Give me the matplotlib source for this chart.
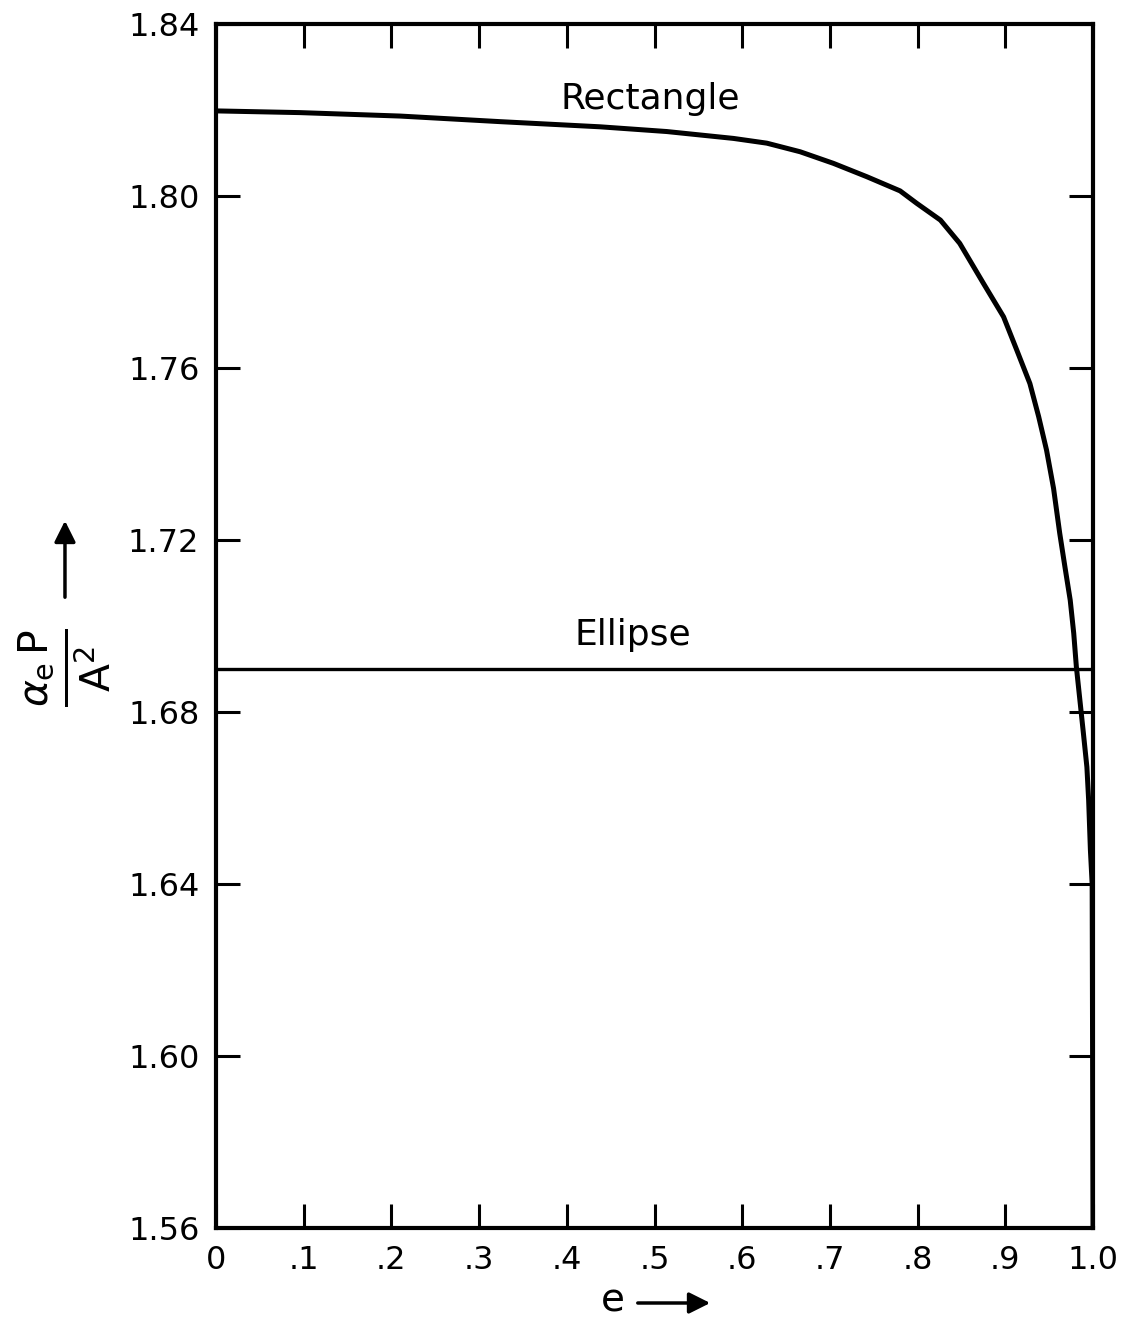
import matplotlib
matplotlib.use("Agg")
import matplotlib.pyplot as plt

plt.rcParams['font.family'] = ['DejaVu Sans']
plt.rcParams['mathtext.fontset'] = 'dejavusans'

# Courbes
e_rect = [0.0, 0.096, 0.21, 0.324, 0.438, 0.514, 0.59, 0.628, 0.666, 0.704,
          0.742, 0.78, 0.799, 0.826, 0.848, 0.875, 0.898, 0.913, 0.928,
          0.938, 0.947, 0.955, 0.962, 0.968, 0.974, 0.978, 0.981, 0.985,
          0.989, 0.993, 0.995, 0.997, 0.999, 1.0]
v_rect = [1.8198, 1.8194, 1.8186, 1.8173, 1.8161, 1.8150, 1.8134, 1.8123,
          1.8103, 1.8076, 1.8045, 1.8012, 1.7983, 1.7944, 1.7890, 1.7797,
          1.7719, 1.7642, 1.7564, 1.7487, 1.7409, 1.7320, 1.7216, 1.7137,
          1.7060, 1.6983, 1.6905, 1.6828, 1.6751, 1.6672, 1.6595, 1.6479,
          1.6400, 1.5600]
e_ell = [0.0, 1.0]
v_ell = [1.69, 1.69]

xticks = [0, 0.1, 0.2, 0.3, 0.4, 0.5, 0.6, 0.7, 0.8, 0.9, 1.0]
xlabels = ['0', '.1', '.2', '.3', '.4', '.5', '.6', '.7', '.8', '.9', '1.0']
yticks = [1.56, 1.60, 1.64, 1.68, 1.72, 1.76, 1.80, 1.84]
ylabels = ['1.56', '1.60', '1.64', '1.68', '1.72', '1.76', '1.80', '1.84']

fig = plt.figure(figsize=(11.28, 13.21), dpi=100)
ax = fig.add_axes([0.1915, 0.0704, 0.7775, 0.9114])

ax.plot(e_rect, v_rect, color='black', lw=3.6, solid_joinstyle='round')
ax.plot(e_ell, v_ell, color='black', lw=2.4)

ax.set_xlim(0, 1.0)
ax.set_ylim(1.56, 1.84)
ax.set_xticks(xticks)
ax.set_xticklabels(xlabels)
ax.set_yticks(yticks)
ax.set_yticklabels(ylabels)
ax.tick_params(direction='in', length=17, width=2.2, labelsize=23,
               top=True, right=True, pad=12)
for s in ax.spines.values():
    s.set_linewidth(3)

ax.text(0.495, 1.8225, 'Rectangle', fontsize=26, ha='center', va='center')
ax.text(0.475, 1.698, 'Ellipse', fontsize=26, ha='center', va='center')

# label axe y avec fleche
fig.text(0.0576, 0.4943, r'$\frac{\alpha_{\mathrm{e}}\,\mathrm{P}}{\mathrm{A}^2}$',
         rotation=90, fontsize=42, ha='center', va='center')
fig.patches.append(matplotlib.patches.FancyArrowPatch(
    (0.0576, 1 - 600 / 1321), (0.0576, 1 - 518 / 1321),
    transform=fig.transFigure, arrowstyle='-|>', mutation_scale=32,
    lw=2.5, color='black'))

# label axe x avec fleche
fig.text(0.543, 1 - 1300 / 1321, 'e', fontsize=28, ha='center', va='center')
fig.patches.append(matplotlib.patches.FancyArrowPatch(
    (635 / 1128, 1 - 1303 / 1321), (713 / 1128, 1 - 1303 / 1321),
    transform=fig.transFigure, arrowstyle='-|>', mutation_scale=32,
    lw=2.5, color='black'))

fig.savefig('out.png', dpi=100)
